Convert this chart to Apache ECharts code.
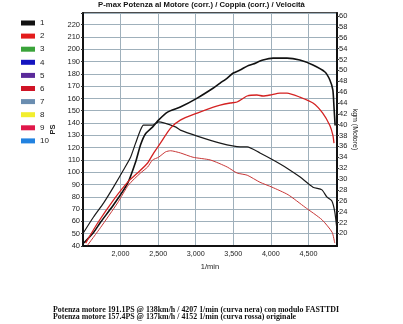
<!DOCTYPE html>
<html><head><meta charset="utf-8">
<script src="https://cdn.jsdelivr.net/npm/echarts@6/dist/echarts.min.js"></script>
<style>html,body{margin:0;padding:0;background:#fff}#c{width:403px;height:324px}</style>
</head><body><div id="c"></div>
<script>
// ---- data ----
const legendNames = ['1','2','3','4','5','6','7','8','9','10'];
const legendColors = ['#111111','#e31c1c','#3aa33a','#1414c0','#5a2a9a','#d01426','#6a8db0','#f2ee2e','#e0184a','#2282e0'];
const xTicks = [2000,2500,3000,3500,4000,4500];
const psTicks = [40,50,60,70,80,90,100,110,120,130,140,150,160,170,180,190,200,210,220];
const kgmTicks = [20,22,24,26,28,30,32,34,36,38,40,42,44,46,48,50,52,54,56,58,60];

const rpmBlackPower = [1510,1640,1735,1905,2095,2200,2265,2330,2425,2505,2625,2795,3020,3235,3325,3420,3500,3590,3685,3765,3895,4030,4215,4385,4560,4720,4785,4825,4840,4855];
const psBlackPower  = [42.4,51,59.5,73.3,91.2,108.3,122.1,131.1,136.7,142.4,148.9,153.0,160.3,168.5,172.5,176.6,180.7,183.1,186.3,188.0,191.2,192.8,192.8,191.2,187.2,181.5,175.0,166.8,153.0,138];

const rpmBlackTorque = [1510,1640,1775,1905,2040,2130,2200,2265,2305,2425,2505,2730,2795,3020,3325,3590,3685,3855,4030,4215,4385,4560,4680,4745,4810,4850,4880];
const kgmBlackTorque = [20.2,23.0,25.6,28.5,31.7,33.9,36.6,39.0,39.9,39.9,40.5,39.6,39.0,37.9,36.6,35.9,35.9,34.8,33.5,32.0,30.4,28.5,28.0,26.7,26.0,24.0,20.6];

const rpmRedPower = [1535,1695,1905,2095,2225,2360,2440,2530,2665,2795,3020,3235,3325,3460,3550,3685,3815,3895,3990,4120,4215,4385,4560,4690,4785,4825,4840];
const psRedPower  = [42.4,58.7,77.4,92.0,99.3,107.5,115.6,123.7,135.9,142.4,148.1,153.0,154.6,156.3,157.1,162.0,162.8,162.0,162.8,164.4,164.4,161.1,156.3,148.1,138.0,130.2,123.7];

const rpmRedTorque = [1560,1735,1960,2105,2265,2360,2425,2505,2600,2665,2795,2965,3195,3420,3550,3685,3855,4015,4230,4455,4680,4815,4850];
const kgmRedTorque = [17.8,21.1,25.6,28.9,31.1,32.2,33.5,34.0,35.0,35.2,34.8,34.0,33.5,32.2,31.1,30.7,29.4,28.5,27.1,24.8,22.5,20.2,18.2];

const titleText = 'P-max Potenza al Motore (corr.) / Coppia (corr.) / Velocità';
const captionLines = [
  'Potenza motore 191.1PS @ 138km/h / 4207 1/min (curva nera) con modulo FASTTDI',
  'Potenza motore 157.4PS @ 137km/h / 4152 1/min (curva rossa) originale'
];

const zip = (a,b) => a.map((v,i)=>[v,b[i]]);

const chart = echarts.init(document.getElementById('c'), null, {renderer:'canvas'});
const extraSeries = legendNames.slice(2).map((n,i)=>({name:n,type:'line',data:[],itemStyle:{color:legendColors[i+2]}}));

chart.setOption({
  animation:false,
  backgroundColor:'#ffffff',
  title:[
    {text:titleText,left:'center',top:1,padding:0,
     textStyle:{fontFamily:'Liberation Sans',fontWeight:'bold',fontSize:7.7,color:'#111'}},
    {text:captionLines.join('\n'),left:53,top:307,padding:0,
     textStyle:{fontFamily:'Liberation Serif',fontWeight:'bold',fontSize:7.9,lineHeight:6.8,color:'#111'}}
  ],
  legend:{
    data:legendNames, orient:'vertical', left:21, top:19, padding:0,
    itemWidth:14, itemHeight:5, itemGap:5.1, icon:'rect',
    textStyle:{fontSize:8,lineHeight:8,fontFamily:'Liberation Sans',color:'#222'},
    selectedMode:false
  },
  color:legendColors,
  grid:{left:83,right:66,top:13,bottom:78,show:true,borderColor:'#111',borderWidth:1.5,containLabel:false},
  xAxis:{
    type:'value', min:1500, max:4880, interval:500,
    name:'1/min', nameLocation:'middle', nameGap:12,
    nameTextStyle:{fontSize:7.5,fontFamily:'Liberation Sans',color:'#222'},
    axisLine:{lineStyle:{color:'#111',width:2}},
    axisTick:{show:false},
    axisLabel:{fontSize:7.2,fontFamily:'Liberation Sans',color:'#222',margin:5,
      formatter:v=> xTicks.indexOf(v)>=0 ? v.toLocaleString('en-US') : ''},
    splitLine:{show:true,lineStyle:{color:'#9fb0bb',width:1}}
  },
  yAxis:[
    {type:'value', min:40, max:229.5, interval:10, position:'left',
     name:'PS', nameLocation:'middle', nameGap:19, nameRotate:90,
     nameTextStyle:{fontSize:7.5,fontFamily:'Liberation Sans',fontWeight:'bold',color:'#222'},
     axisLine:{show:true,lineStyle:{color:'#111',width:2}},
     axisTick:{show:true,length:2,lineStyle:{color:'#333'}},
     axisLabel:{fontSize:7.5,fontFamily:'Liberation Sans',color:'#222',margin:3,
       formatter:v=> psTicks.indexOf(v)>=0 ? String(v) : ''},
     splitLine:{show:true,lineStyle:{color:'#9fb0bb',width:1}}},
    {type:'value', min:17.67, max:60.55, position:'right',
     name:'kgm (Motore)', nameLocation:'middle', nameGap:14, nameRotate:-90, nameMoveOverlap:false,
     nameTextStyle:{fontSize:7,fontFamily:'Liberation Sans',color:'#222'},
     axisLine:{show:true,lineStyle:{color:'#111',width:2}},
     axisTick:{show:true,length:2,customValues:kgmTicks,lineStyle:{color:'#333'}},
     axisLabel:{fontSize:7.5,fontFamily:'Liberation Sans',color:'#222',margin:2,customValues:kgmTicks},
     splitLine:{show:false}}
  ],
  series:[
    {name:'1',type:'line',yAxisIndex:0,data:zip(rpmBlackPower,psBlackPower),showSymbol:false,smooth:0.2,
     lineStyle:{color:'#111',width:1.6},itemStyle:{color:legendColors[0]}},
    {name:'1',type:'line',yAxisIndex:1,data:zip(rpmBlackTorque,kgmBlackTorque),showSymbol:false,smooth:0.2,
     lineStyle:{color:'#1a1a1a',width:1.2},itemStyle:{color:legendColors[0]}},
    {name:'2',type:'line',yAxisIndex:0,data:zip(rpmRedPower,psRedPower),showSymbol:false,smooth:0.2,
     lineStyle:{color:'#d42222',width:1.3},itemStyle:{color:legendColors[1]}},
    {name:'2',type:'line',yAxisIndex:1,data:zip(rpmRedTorque,kgmRedTorque),showSymbol:false,smooth:0.2,
     lineStyle:{color:'#c83838',width:1.0},itemStyle:{color:legendColors[1]}}
  ].concat(extraSeries)
});
</script></body></html>
